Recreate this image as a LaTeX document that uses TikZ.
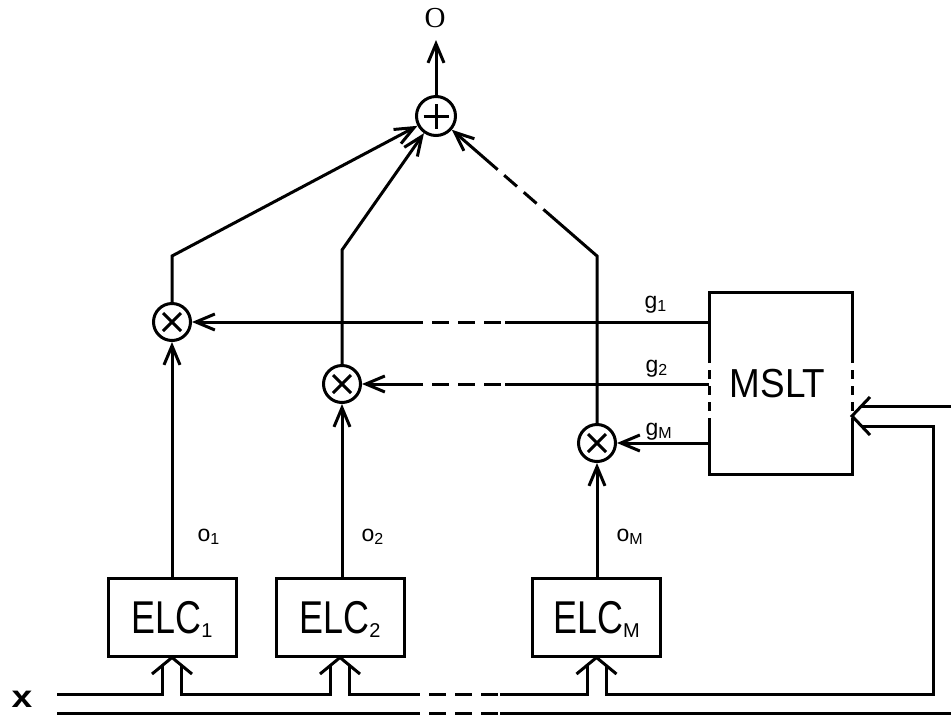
\documentclass[tikz,border=0pt]{standalone}
\usepackage{graphicx}
\usepackage{fontspec}
\setmainfont{Liberation Sans}
\newfontfamily\serifO{Liberation Serif}
\usetikzlibrary{arrows.meta,calc}
\newcommand\subtxt[2]{#1\raisebox{-3pt}{\fontsize{16}{16}\selectfont #2}}
\newcommand\elctext[1]{\scalebox{0.78}[1]{ELC}\raisebox{-4pt}{\fontsize{20}{20}\selectfont #1}}
\begin{document}
\begin{tikzpicture}[x=1pt,y=-1pt,line width=3pt,
  >={Straight Barb[length=19pt,width=16pt]},
  sumbase/.style={circle,draw,inner sep=0pt},
  plusnode/.style={sumbase,minimum size=39pt,
    path picture={\draw[line width=3pt]
      ([xshift=-12.5pt]path picture bounding box.center) -- ([xshift=12.5pt]path picture bounding box.center)
      ([yshift=-12.5pt]path picture bounding box.center) -- ([yshift=12.5pt]path picture bounding box.center);}},
  timesnode/.style={sumbase,minimum size=37pt,
    path picture={\draw[line width=3pt]
      ([shift={(-9,-9)}]path picture bounding box.center) -- ([shift={(9,9)}]path picture bounding box.center)
      ([shift={(-9,9)}]path picture bounding box.center) -- ([shift={(9,-9)}]path picture bounding box.center);}},
  elcbox/.style={draw,minimum width=128pt,minimum height=78pt,inner sep=0pt,
    font=\fontsize{46}{46}\selectfont,text height=33pt,text depth=0pt},
  lbl/.style={anchor=base west,inner sep=0pt,font=\fontsize{23}{23}\selectfont},
  gapdash/.style={dash pattern=on 17pt off 9pt,dash phase=17pt},
  sidedash/.style={dash pattern=on 9pt off 7pt,dash phase=9pt}]
\useasboundingbox (0,0) rectangle (951,716);

% summation and output
\node[plusnode] (sum) at (436,116) {};
\node[font=\serifO\fontsize{29}{29}\selectfont,inner sep=0pt] (out) at (435,18) {O};
\coordinate (otip) at (436,40);
\draw[->] (sum) -- (otip);

% multipliers
\node[timesnode] (m1) at (172,322) {};
\node[timesnode] (m2) at (342,384) {};
\node[timesnode] (m3) at (597,443) {};

% ELC boxes
\node[elcbox] (e1) at (172,617) {\elctext{1}};
\node[elcbox] (e2) at (340,617) {\elctext{2}};
\node[elcbox] (eM) at (596.5,617) {\elctext{M}};

% MSLT box
\node[minimum width=143pt,minimum height=182pt,inner sep=0pt,outer sep=0pt,
  font=\fontsize{40.5}{40.5}\selectfont,text height=29pt,text depth=0pt]
  (mslt) at (780.5,383) {\hspace*{-5.6pt}\scalebox{0.91}[1]{MSLT}};
\coordinate (lA) at ($(mslt.north west)+(0,71)$);
\coordinate (lB) at ($(mslt.north west)+(0,135)$);
\coordinate (rA) at ($(mslt.north east)+(0,71)$);
\coordinate (rB) at ($(mslt.north east)+(0,135)$);
\draw (lA) -- (mslt.north west) -- (mslt.north east) -- (rA);
\draw (lB) -- (mslt.south west) -- (mslt.south east) -- (rB);
\draw[sidedash] (lA) -- (lB);
\draw[sidedash] (rA) -- (rB);

% ELC outputs to multipliers
\draw[->] (e1) -- (m1);
\draw[->] (m2 |- e2.north) -- (m2);
\draw[->] (m3 |- eM.north) -- (m3);
\node[lbl] (lo1) at (196,541) {\subtxt{o}{1}};
\node[lbl] (lo2) at (360,541) {\subtxt{o}{2}};
\node[lbl] (loM) at (615,541) {\subtxt{o}{M}};

% gating lines
\coordinate (g1a) at (423,322);
\coordinate (g1b) at (505,322);
\draw (mslt.west |- m1) -- (g1b);
\draw[gapdash] (g1a) -- (g1b);
\draw[->] (g1a) -- (m1);
\coordinate (g2a) at (423,384);
\coordinate (g2b) at (505,384);
\draw (mslt.west |- m2) -- (g2b);
\draw[gapdash] (g2a) -- (g2b);
\draw[->] (g2a) -- (m2);
\draw[->] (mslt.west |- m3) -- (m3);
\node[lbl] (lg1) at (643,308) {\subtxt{g}{1}};
\node[lbl] (lg2) at (644,372) {\subtxt{g}{2}};
\node[lbl] (lgM) at (644,435) {\subtxt{g}{M}};

% multipliers to summation
\coordinate (c1) at (172,256);
\coordinate (c2) at (342,250);
\coordinate (c3) at (597,256);
\draw[->] (m1) -- (c1) -- (sum);
\draw[->] (m2) -- (c2) -- (sum);
\coordinate (d1) at ($(c3)!0.333!(sum)$);
\coordinate (d2) at ($(c3)!0.617!(sum)$);
\draw (m3) -- (c3) -- (d1);
\draw[gapdash] (d1) -- (d2);
\draw[->] (d2) -- (sum);

% input x bus
\node[font=\bfseries\fontsize{31}{31}\selectfont,inner sep=0pt] (xin) at (22,699) {\scalebox{1.2}[1]{x}};
\coordinate (bu0) at (57,694);
\coordinate (bl0) at (57,713);
\coordinate (bua) at (420,694);
\coordinate (bub) at (500,694);
\coordinate (bla) at (420,713);
\coordinate (blb) at (500,713);
\coordinate (blend) at (951,713);
\coordinate (bucorner) at (933,694);
\foreach \e in {e1,e2,eM}{
  \draw ($(\e.south)+(-20,16.5)$) -- (\e.south) -- ($(\e.south)+(20,16.5)$);
  \coordinate (\e L) at ($(\e.south)+(-9.5,7.8)$);
  \coordinate (\e R) at ($(\e.south)+(9.5,7.8)$);
}
\draw (bu0) -- (e1L |- bu0) -- (e1L);
\draw (e1R) -- (e1R |- bu0) -- (e2L |- bu0) -- (e2L);
\draw (e2R) -- (e2R |- bu0) -- (bua);
\draw[gapdash] (bua) -- (bub);
\draw (bub) -- (eML |- bub) -- (eML);
\draw (eMR) -- (eMR |- bu0) -- (bucorner) -- (bucorner |- 0,426) -- (861.5,426);
\draw (bl0) -- (bla);
\draw[gapdash] (bla) -- (blb);
\draw (blb) -- (blend);

% MSLT input arrow
\coordinate (mtip) at ($(mslt.east)+(0,33)$);
\draw ($(mtip)+(18,-19)$) -- (mtip) -- ($(mtip)+(18,19)$);
\draw (951,406) -- (861.5,406);
\end{tikzpicture}
\end{document}
